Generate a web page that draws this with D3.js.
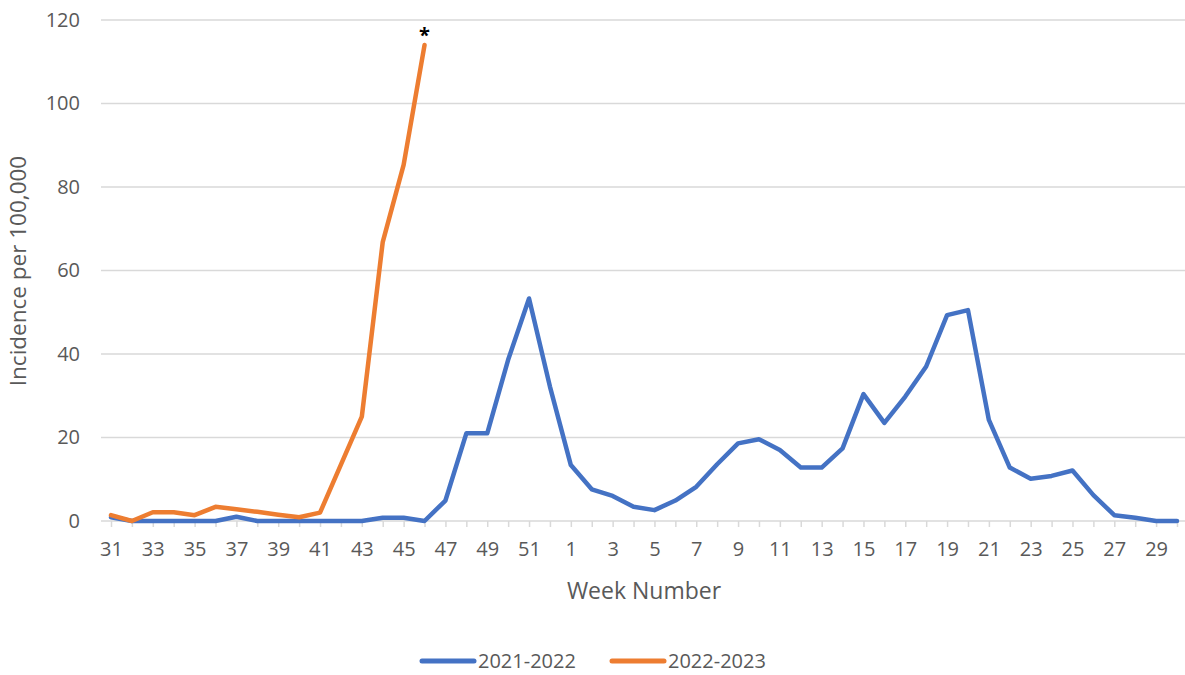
<!DOCTYPE html>
<html>
<head>
<meta charset="utf-8">
<script src="https://cdn.jsdelivr.net/npm/d3@7"></script>
<style>
  body { margin: 0; background: #fff; }
  text { font-family: "Open Sans", "Noto Sans", sans-serif; fill: #595959; }
  .tick line { stroke: #d9d9d9; }
  .domain { stroke: #d9d9d9; }
</style>
</head>
<body>
<div id="chart"></div>
<script>
// week numbers, season starts at week 31
var weeks = [31,32,33,34,35,36,37,38,39,40,41,42,43,44,45,46,47,48,49,50,51,52,
             1,2,3,4,5,6,7,8,9,10,11,12,13,14,15,16,17,18,19,20,21,22,23,24,25,26,27,28,29,30];
var weekLabels = [31,33,35,37,39,41,43,45,47,49,51,1,3,5,7,9,11,13,15,17,19,21,23,25,27,29];
var yTicks = [0,20,40,60,80,100,120];

var season2122 = [0.9,0,0,0,0,0,1.0,0,0,0,0,0,0,0.8,0.8,0,4.9,21,21,38.6,53.3,32.2,
                  13.4,7.6,6.0,3.4,2.6,4.9,8.2,13.6,18.6,19.6,17.0,12.8,12.8,17.4,30.4,23.5,29.8,37.0,49.3,50.5,
                  24.2,12.8,10.1,10.8,12.1,6.2,1.4,0.8,0,0];
var season2223 = [1.4,0,2.1,2.1,1.4,3.4,2.8,2.2,1.5,0.9,2.0,13.5,25,66.8,85.3,114];

var seriesNames = ["2021-2022","2022-2023"];
var seriesColors = ["#4472C4","#ED7D31"];

var W = 1185, H = 675;
var svg = d3.select("#chart").append("svg")
  .attr("width", W).attr("height", H);

var x = d3.scalePoint().domain(weeks).range([111, 1177]);
var y = d3.scaleLinear().domain([0, 120]).range([521, 20]);

// horizontal gridlines
svg.append("g").selectAll("line")
  .data(yTicks)
  .enter().append("line")
  .attr("x1", 101).attr("x2", 1185)
  .attr("y1", function(d){ return y(d); })
  .attr("y2", function(d){ return y(d); })
  .attr("stroke", "#d9d9d9")
  .attr("stroke-width", 1.5);

// y axis labels
var yAxis = d3.axisLeft(y).tickValues(yTicks).tickSize(0).tickPadding(0);
svg.append("g")
  .attr("transform", "translate(80,0)")
  .call(yAxis)
  .call(function(g){ g.select(".domain").remove(); })
  .selectAll("text").style("font-size", "20px").attr("fill", "#595959");

// x axis ticks (every week) and labels (every other week)
svg.append("g")
  .attr("transform", "translate(0,521)")
  .call(d3.axisBottom(x).tickSize(6).tickFormat(""))
  .call(function(g){ g.select(".domain").remove(); })
  .selectAll("line").attr("stroke", "#d9d9d9").attr("stroke-width", 1.5);

svg.append("g")
  .attr("transform", "translate(0,521)")
  .call(d3.axisBottom(x).tickValues(weekLabels).tickSize(0).tickPadding(21))
  .call(function(g){ g.select(".domain").remove(); })
  .selectAll("text").style("font-size", "20px").attr("fill", "#595959");

// lines
var line = d3.line()
  .x(function(d, i){ return x(weeks[i]); })
  .y(function(d){ return y(d); });

[season2122, season2223].forEach(function(s, i){
  svg.append("path")
    .datum(s)
    .attr("fill", "none")
    .attr("stroke", seriesColors[i])
    .attr("stroke-width", 4.5)
    .attr("stroke-linejoin", "round")
    .attr("stroke-linecap", "round")
    .attr("d", line);
});

// asterisk above last orange point
var lastIdx = season2223.length - 1;
svg.append("text")
  .attr("x", x(weeks[lastIdx]))
  .attr("y", y(season2223[lastIdx]) - 3)
  .attr("text-anchor", "middle")
  .style("font-size", "20px")
  .style("font-weight", "bold")
  .style("fill", "#000")
  .text("*");

// axis titles
svg.append("text")
  .attr("x", 644).attr("y", 599)
  .attr("text-anchor", "middle")
  .style("font-size", "23px")
  .text("Week Number");

svg.append("text")
  .attr("transform", "translate(26,271) rotate(-90)")
  .attr("text-anchor", "middle")
  .style("font-size", "22.5px")
  .text("Incidence per 100,000");

// legend
var legendX = [420, 610];
seriesNames.forEach(function(n, i){
  var g = svg.append("g").attr("transform", "translate(" + legendX[i] + ",661)");
  g.append("line")
    .attr("x1", 2).attr("x2", 54)
    .attr("stroke", seriesColors[i])
    .attr("stroke-width", 5)
    .attr("stroke-linecap", "round");
  g.append("text")
    .attr("x", 58).attr("y", 7)
    .style("font-size", "20px")
    .text(n);
});
</script>
</body>
</html>
